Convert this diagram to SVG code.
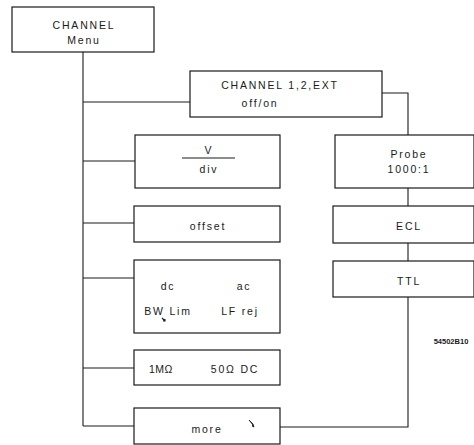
<svg xmlns="http://www.w3.org/2000/svg" width="474" height="445" viewBox="0 0 474 445">
<style>
.box{fill:#fff;stroke:#1a1a1a;stroke-width:1.2}
.ln{fill:none;stroke:#1a1a1a;stroke-width:1.1}
text{font-family:"Liberation Sans","DejaVu Sans",sans-serif;font-size:10.5px;fill:#1a1a1a;text-anchor:middle;letter-spacing:1.8px}
.sm{font-size:7.5px;letter-spacing:0;font-weight:bold}
</style>
<rect width="474" height="445" fill="#fff"/>
<g id="connectors">
<path class="ln" d="M83 52 V426"/>
<path class="ln" d="M83 102 H190"/>
<path class="ln" d="M83 161 H135"/>
<path class="ln" d="M83 223 H134"/>
<path class="ln" d="M83 278 H134"/>
<path class="ln" d="M83 368 H134"/>
<path class="ln" d="M83 426 H134"/>
<path class="ln" d="M382 93 H408 V135"/>
<path class="ln" d="M408 188 V206"/>
<path class="ln" d="M408 243 V261"/>
<path class="ln" d="M408 297 V427 H280"/>
</g>
<g id="menu">
<rect class="box" x="12" y="7" width="142" height="45"/>
<text x="84" y="29">CHANNEL</text>
<text x="84" y="44">Menu</text>
</g>
<g id="channel">
<rect class="box" x="190" y="71" width="192" height="46"/>
<text x="280" y="89">CHANNEL 1,2,EXT</text>
<text x="260" y="107">off/on</text>
</g>
<g id="vdiv">
<rect class="box" x="135" y="135" width="145" height="53"/>
<text x="209" y="154">V</text>
<path class="ln" d="M182 158 H235"/>
<text x="209" y="173">div</text>
</g>
<g id="probe">
<rect class="box" x="335" y="135" width="139" height="53"/>
<text x="409" y="158">Probe</text>
<text x="409" y="173">1000:1</text>
</g>
<g id="offset">
<rect class="box" x="134" y="206" width="146" height="36"/>
<text x="208" y="230">offset</text>
</g>
<g id="ecl">
<rect class="box" x="333" y="206" width="141" height="37"/>
<text x="409" y="230">ECL</text>
</g>
<g id="ttl">
<rect class="box" x="333" y="261" width="141" height="36"/>
<text x="409" y="285">TTL</text>
</g>
<g id="coupling">
<rect class="box" x="134" y="260" width="146" height="73"/>
<text x="168" y="290">dc</text>
<text x="244" y="290">ac</text>
<text x="168" y="315">BW Lim</text>
<text x="240" y="315">LF rej</text>
<path class="ln" d="M162 318 l3 3 m0 -2 v2 h-2" stroke-width="0.8"/>
</g>
<g id="impedance">
<rect class="box" x="134" y="350" width="146" height="35"/>
<text x="161" y="373" style="letter-spacing:0.5px">1MΩ</text>
<text x="235" y="373">50Ω DC</text>
</g>
<g id="more">
<rect class="box" x="134" y="408" width="146" height="36"/>
<text x="207" y="433">more</text>
<path d="M249 420 l4 5 l-1 1 l2 1 l-1 -3 z" fill="#1a1a1a" stroke="#1a1a1a" stroke-width="0.8"/>
</g>
<g id="figno">
<text class="sm" x="451" y="344">54502B10</text>
</g>
</svg>
